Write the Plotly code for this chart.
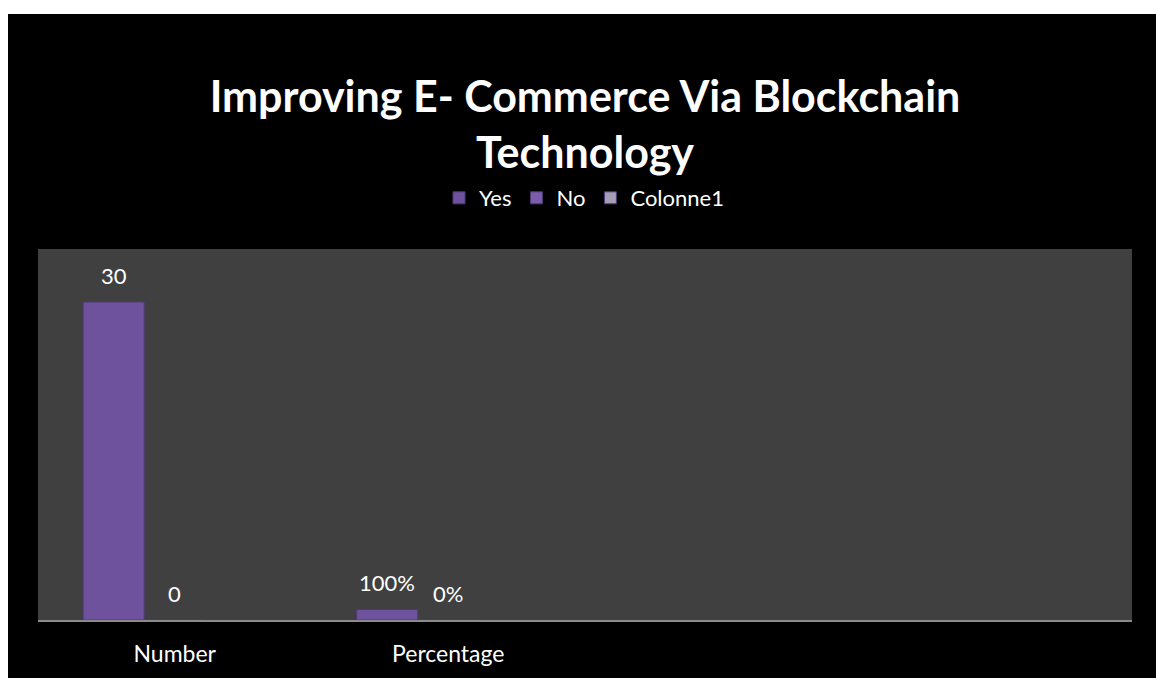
import plotly.graph_objects as go

# Survey result: "Improving E- Commerce Via Blockchain Technology"
categories = ["Number", "Percentage", " ", "  "]
series_names = ["Yes", "No", "Colonne1"]
yes_values = [30, 1, None, None]
no_values = [0, 0, None, None]
colonne1_values = [None, None, None, None]
yes_labels = ["30", "100%", "", ""]
no_labels = ["0", "0%", "", ""]
colonne1_labels = ["", "", "", ""]

series_values = [yes_values, no_values, colonne1_values]
series_labels = [yes_labels, no_labels, colonne1_labels]
series_colors = ["#6e529d", "#7a5cad", "#a39db5"]

W, H = 1156, 678
M_L, M_R, M_T, M_B = 38, 24, 249, 58
BARGAP = 0.33
FONT = "Lato"

plot_w = W - M_L - M_R
plot_h = H - M_T - M_B
slot_px = plot_w / len(categories) * (1 - BARGAP) / len(series_names)

fig = go.Figure()
for i, name in enumerate(series_names):
    fig.add_trace(go.Bar(
        name=name,
        x=categories,
        y=series_values[i],
        marker=dict(color=series_colors[i],
                    line=dict(color="#4e3a72", width=1)),
    ))

# data labels placed above each bar from the same values
annotations = []
for i in range(len(series_names)):
    for cat, val, lab in zip(categories, series_values[i], series_labels[i]):
        if lab == "" or val is None:
            continue
        annotations.append(dict(
            x=cat, y=val, xref="x", yref="y", text=lab, showarrow=False,
            xshift=(i - 1) * slot_px, yshift=27, yanchor="middle",
            font=dict(family=FONT, size=22, color="#ffffff"),
        ))

# white frame strips at the top and left edges
shapes = [
    dict(type="rect", xref="paper", yref="paper", layer="above",
         x0=-M_L / plot_w, x1=(W - M_L) / plot_w,
         y0=(H - M_B - 14) / plot_h, y1=(H - M_B) / plot_h,
         fillcolor="#ffffff", line=dict(width=0)),
    dict(type="rect", xref="paper", yref="paper", layer="above",
         x0=-M_L / plot_w, x1=(8 - M_L) / plot_w,
         y0=-M_B / plot_h, y1=(H - M_B) / plot_h,
         fillcolor="#ffffff", line=dict(width=0)),
]

fig.update_layout(
    width=W, height=H,
    margin=dict(l=M_L, r=M_R, t=M_T, b=M_B),
    paper_bgcolor="#000000",
    plot_bgcolor="#404040",
    barmode="group",
    bargap=BARGAP,
    bargroupgap=0,
    font=dict(family=FONT, color="#ffffff", size=22),
    title=dict(
        text="<b>Improving E- Commerce Via Blockchain<br>Technology</b>",
        x=0.5, xanchor="center", xref="paper",
        y=1 - 112 / H, yanchor="middle", yref="container",
        font=dict(family=FONT, size=43, color="#ffffff"),
    ),
    legend=dict(
        orientation="h", x=(584 - M_L) / plot_w, xanchor="center",
        y=(H - M_B - 198) / plot_h, yanchor="middle",
        font=dict(family=FONT, size=22, color="#ffffff"),
        bgcolor="rgba(0,0,0,0)", itemwidth=30, traceorder="normal",
    ),
    xaxis=dict(
        showgrid=False, zeroline=False, showline=True,
        linecolor="#8a8a8a", linewidth=2, ticks="",
        tickfont=dict(family=FONT, size=23, color="#ffffff"),
        ticklabelstandoff=12,
    ),
    yaxis=dict(
        range=[0, 35], showgrid=False, zeroline=False,
        showticklabels=False, showline=False, ticks="",
    ),
    annotations=annotations,
    shapes=shapes,
)

fig.write_html("out.html")
